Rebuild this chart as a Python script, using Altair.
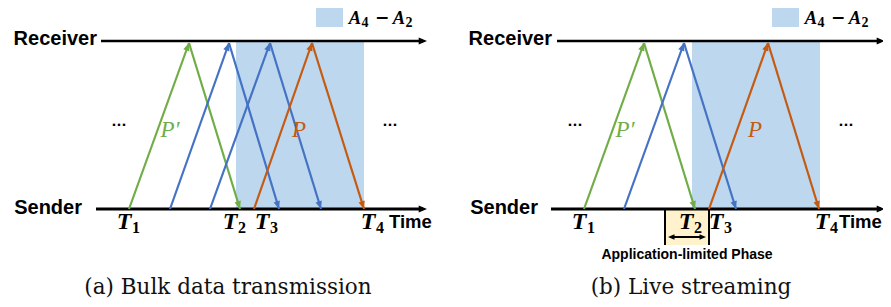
import math
import altair as alt
import pandas as pd

# ---------------- data (figure coordinates: x = time position, y = lane) ----------------
PANELS = ["a", "b"]
RECV_Y = 41
SEND_Y = 209
recv_axis_start = [101, 557]
send_axis_start = [96, 551]
axis_end = [427, 885]
shade_start = [236, 692]
shade_end = [364, 820]
legend_start = [316, 772]
legend_end = [343, 799]

# packets: send time, arrival at receiver, ACK return
pkt_panel = ["a", "a", "a", "a", "b", "b", "b"]
pkt_color = ["#70AD47", "#4472C4", "#4472C4", "#C55A11", "#70AD47", "#4472C4", "#C55A11"]
pkt_send = [129, 170, 210, 254, 584, 624, 709]
pkt_recv = [189, 229, 270, 312, 644, 684, 768]
pkt_ack = [240, 279, 321, 364, 695, 736, 819]
PKT_TOP = 43

# T labels
t_names = ["1", "2", "3", "4", "1", "2", "3", "4"]
t_pos = [124, 230, 262, 368, 579, 686, 716, 822]
T_Y = 222

# application-limited phase (panel b)
app_start = 665
app_end = 709
app_bottom = 245
app_arrow_y = 237

lane_labels = ["Receiver", "Sender", "Receiver", "Sender"]
lane_label_x = [97, 82, 552, 538]
lane_label_y = [39, 208, 39, 208]
time_label_x = [389, 839]

dots_x = [119, 390, 575, 846]
DOTS_Y = 125
p_labels = ["P′", "P", "P′", "P"]
p_x = [170, 299, 625, 755]
p_colors = ["#70AD47", "#C55A11", "#70AD47", "#C55A11"]
P_Y = 130

captions = ["(a) Bulk data transmission", "(b) Live streaming"]
caption_x = [228, 691]
CAPTION_Y = 288

SHADE = "#BDD7EE"
YELLOW = "#FFF2CC"

# ---------------- build tables ----------------
W, H = 875, 291
XS = alt.Scale(domain=[8, 8 + W], nice=False, zero=False)
YS = alt.Scale(domain=[8, 8 + H], nice=False, zero=False, reverse=True)


def X(f="x"):
    return alt.X(f"{f}:Q", scale=XS, axis=None)


def Y(f="y"):
    return alt.Y(f"{f}:Q", scale=YS, axis=None)


def ang(x1, y1, x2, y2):
    a = math.degrees(math.atan2(x2 - x1, -(y2 - y1)))
    return a % 360


segs, heads = [], []
for i in range(2):
    segs.append(dict(x=recv_axis_start[i], y=RECV_Y, x2=axis_end[i] - 4, y2=RECV_Y, c="#000000", w=2.5))
    segs.append(dict(x=send_axis_start[i], y=SEND_Y, x2=axis_end[i] - 4, y2=SEND_Y, c="#000000", w=3))
    heads.append(dict(x=axis_end[i], y=RECV_Y, a=90, c="#000000", s=90))
    heads.append(dict(x=axis_end[i], y=SEND_Y, a=90, c="#000000", s=90))
for p, c, s, r, k in zip(pkt_panel, pkt_color, pkt_send, pkt_recv, pkt_ack):
    segs.append(dict(x=s, y=SEND_Y, x2=r, y2=PKT_TOP, c=c, w=2.2))
    segs.append(dict(x=r, y=PKT_TOP, x2=k, y2=SEND_Y, c=c, w=2.2))
    heads.append(dict(x=r, y=PKT_TOP, a=ang(s, SEND_Y, r, PKT_TOP), c=c, s=81))
    heads.append(dict(x=k, y=SEND_Y, a=ang(r, PKT_TOP, k, SEND_Y), c=c, s=81))
# application-limited phase bracket
segs.append(dict(x=app_start, y=SEND_Y, x2=app_start, y2=app_bottom, c="#000000", w=2))
segs.append(dict(x=app_end, y=SEND_Y, x2=app_end, y2=app_bottom, c="#000000", w=2))
segs.append(dict(x=app_start + 6, y=app_arrow_y, x2=app_end - 6, y2=app_arrow_y, c="#000000", w=2))
heads.append(dict(x=app_start + 3, y=app_arrow_y, a=270, c="#000000", s=55))
heads.append(dict(x=app_end - 3, y=app_arrow_y, a=90, c="#000000", s=55))

segs = pd.DataFrame(segs)
heads = pd.DataFrame(heads)

rects = pd.DataFrame(
    [dict(x=shade_start[i], x2=shade_end[i], y=RECV_Y, y2=SEND_Y, c=SHADE) for i in range(2)]
    + [dict(x=legend_start[i], x2=legend_end[i], y=6, y2=27, c=SHADE) for i in range(2)]
    + [dict(x=app_start, x2=app_end, y=SEND_Y, y2=app_bottom, c=YELLOW)]
)

HEAD_PATH = "M0,0L-0.72,1.75L0.72,1.75Z"

rect_layer = alt.Chart(rects).mark_rect(strokeWidth=0).encode(
    x=X(), x2="x2:Q", y=Y(), y2="y2:Q", color=alt.Color("c:N", scale=None)
)
seg_layer = alt.Chart(segs).mark_rule(strokeCap="butt").encode(
    x=X(), x2="x2:Q", y=Y(), y2="y2:Q",
    color=alt.Color("c:N", scale=None),
    strokeWidth=alt.StrokeWidth("w:Q", scale=None),
)
head_layer = alt.Chart(heads).mark_point(shape=HEAD_PATH, filled=True, opacity=1, strokeWidth=0).encode(
    x=X(), y=Y(),
    angle=alt.Angle("a:Q", scale=None),
    color=alt.Color("c:N", scale=None),
    size=alt.Size("s:Q", scale=None),
)

lane_df = pd.DataFrame(dict(t=lane_labels, x=lane_label_x, y=lane_label_y))
lane_layer = alt.Chart(lane_df).mark_text(
    font="Liberation Sans", fontWeight="bold", fontSize=20, align="right", baseline="middle", color="#000000"
).encode(x=X(), y=Y(), text="t:N")

time_df = pd.DataFrame(dict(t=["Time", "Time"], x=time_label_x, y=[T_Y, T_Y]))
time_layer = alt.Chart(time_df).mark_text(
    font="Liberation Sans", fontWeight="bold", fontSize=18.5, align="left", baseline="middle", color="#000000"
).encode(x=X(), y=Y(), text="t:N")

tmain_df = pd.DataFrame(dict(t=["T"] * len(t_pos), x=t_pos, y=[T_Y] * len(t_pos)))
tmain_layer = alt.Chart(tmain_df).mark_text(
    font="Liberation Serif", fontWeight="bold", fontStyle="italic", fontSize=24,
    align="center", baseline="middle", color="#000000"
).encode(x=X(), y=Y(), text="t:N")
tsub_df = pd.DataFrame(dict(t=t_names, x=t_pos, y=[T_Y] * len(t_pos)))
tsub_layer = alt.Chart(tsub_df).mark_text(
    font="Liberation Serif", fontWeight="bold", fontSize=16, align="center", baseline="middle",
    dx=12, dy=6, color="#000000"
).encode(x=X(), y=Y(), text="t:N")

# legend text A4 - A2
leg_x = [legend_end[0] + 12, legend_end[0] + 56, legend_end[1] + 12, legend_end[1] + 56]
leg_main = pd.DataFrame(dict(t=["A", "A", "A", "A"], x=leg_x, y=[24] * 4))
leg_main_layer = alt.Chart(leg_main).mark_text(
    font="Liberation Serif", fontWeight="bold", fontStyle="italic", fontSize=18.5,
    align="center", baseline="alphabetic", color="#000000"
).encode(x=X(), y=Y(), text="t:N")
leg_sub = pd.DataFrame(dict(t=["4", "2", "4", "2"], x=leg_x, y=[27] * 4))
leg_sub_layer = alt.Chart(leg_sub).mark_text(
    font="Liberation Serif", fontWeight="bold", fontSize=14, align="center", baseline="alphabetic",
    dx=10, color="#000000"
).encode(x=X(), y=Y(), text="t:N")
leg_minus = pd.DataFrame(dict(t=["−", "−"], x=[legend_end[0] + 39, legend_end[1] + 39], y=[18, 18]))
leg_minus_layer = alt.Chart(leg_minus).mark_text(
    font="DejaVu Sans", fontWeight="bold", fontSize=17, align="center", baseline="middle", color="#000000"
).encode(x=X(), y=Y(), text="t:N")

dots_df = pd.DataFrame(dict(t=["···"] * 4, x=dots_x, y=[DOTS_Y] * 4))
dots_layer = alt.Chart(dots_df).mark_text(
    font="DejaVu Sans", fontSize=13, fontWeight="bold", align="center", baseline="middle", color="#000000"
).encode(x=X(), y=Y(), text="t:N")

p_df = pd.DataFrame(dict(t=p_labels, x=p_x, y=[P_Y] * 4, c=p_colors))
p_layer = alt.Chart(p_df).mark_text(
    font="Liberation Serif", fontStyle="italic", fontSize=23, align="center", baseline="middle"
).encode(x=X(), y=Y(), text="t:N", color=alt.Color("c:N", scale=None))

app_df = pd.DataFrame(dict(t=["Application-limited Phase"], x=[(app_start + app_end) / 2], y=[255]))
app_layer = alt.Chart(app_df).mark_text(
    font="Liberation Sans", fontWeight="bold", fontSize=14, align="center", baseline="middle", color="#000000"
).encode(x=X(), y=Y(), text="t:N")

cap_df = pd.DataFrame(dict(t=captions, x=caption_x, y=[CAPTION_Y] * 2))
cap_layer = alt.Chart(cap_df).mark_text(
    font="DejaVu Serif", fontSize=21.5, align="center", baseline="middle", color="#111111"
).encode(x=X(), y=Y(), text="t:N")

chart = alt.layer(
    rect_layer, seg_layer, head_layer, lane_layer, time_layer, tmain_layer, tsub_layer,
    leg_main_layer, leg_sub_layer, leg_minus_layer, dots_layer, p_layer, app_layer, cap_layer
).properties(
    width=W, height=H, padding=0, autosize=alt.AutoSizeParams(type="none")
).configure_view(stroke=None)

chart.save("out.html", embed_options={"renderer": "svg", "actions": False})
